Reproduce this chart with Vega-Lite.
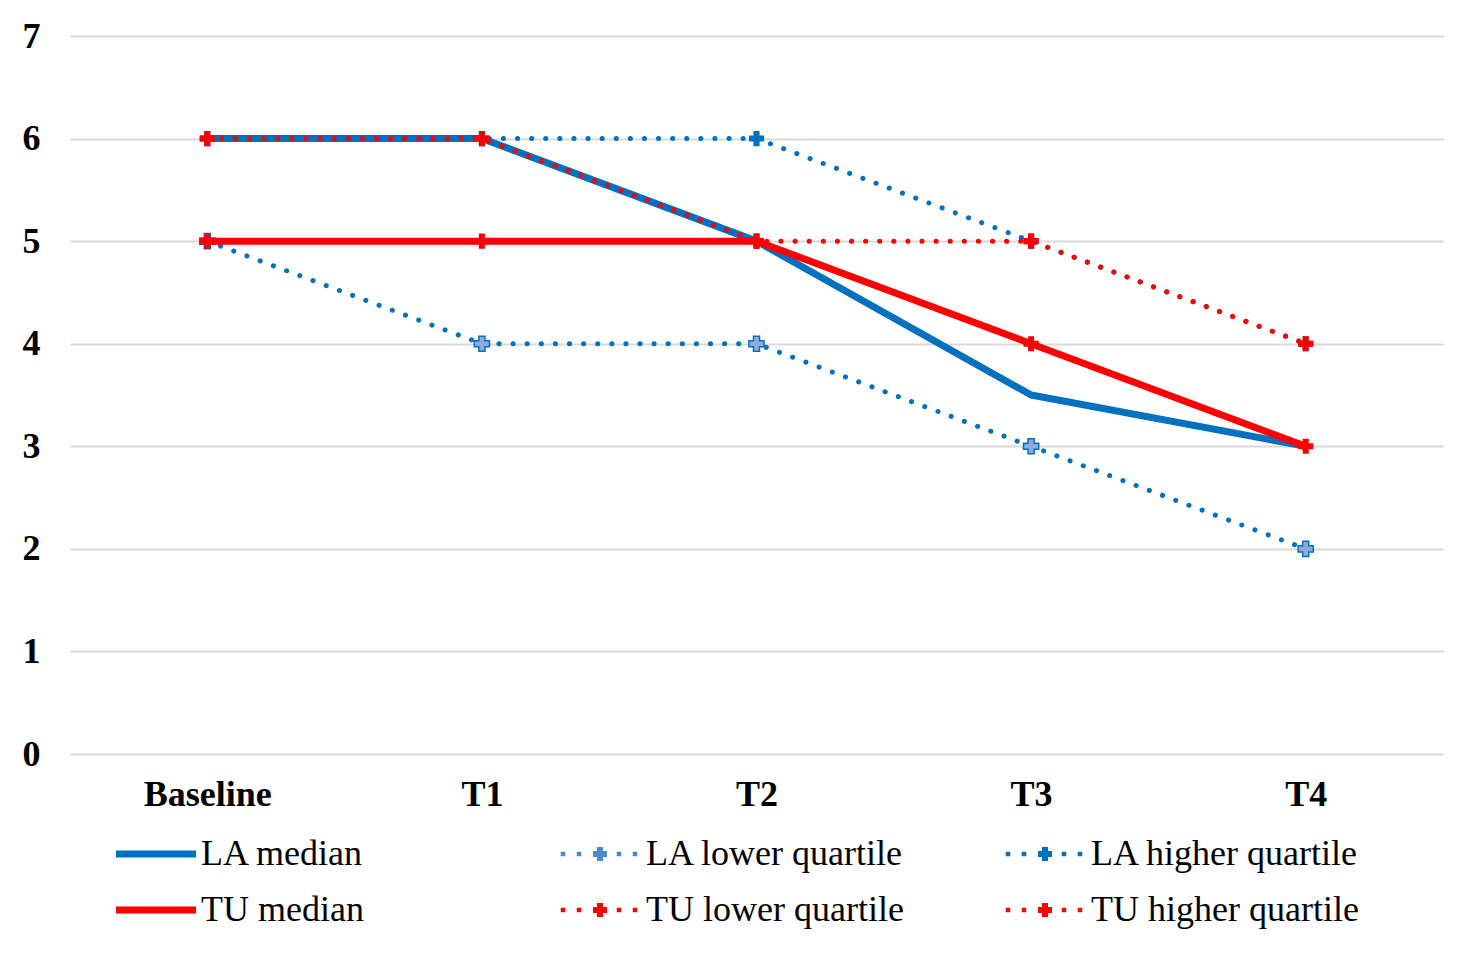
{
  "$schema": "https://vega.github.io/schema/vega-lite/v6.json",
  "width": 1373,
  "height": 718,
  "padding": {"left": 22, "top": 18, "right": 35, "bottom": 10},
  "background": "white",
  "config": {
    "view": {"stroke": null},
    "axis": {"labelFont": "Liberation Serif", "labelFontWeight": "bold", "labelColor": "black", "title": null, "ticks": false, "domain": false},
    "legend": {
      "orient": "bottom",
      "direction": "horizontal",
      "columns": 3,
      "gridAlign": "all",
      "title": null,
      "labelFont": "Liberation Serif",
      "labelFontSize": 36,
      "labelColor": "black",
      "labelLimit": 0,
      "symbolSize": 100,
      "symbolStrokeWidth": 0,
      "symbolOpacity": 1,
      "labelOffset": 62,
      "columnPadding": 79,
      "rowPadding": 20,
      "padding": 33,
      "offset": -9
    }
  },
  "data": {
    "values": [
      {"t": "Baseline", "series": "LA median", "v": 6},
      {"t": "T1", "series": "LA median", "v": 6},
      {"t": "T2", "series": "LA median", "v": 5},
      {"t": "T3", "series": "LA median", "v": 3.5},
      {"t": "T4", "series": "LA median", "v": 3},
      {"t": "Baseline", "series": "LA lower quartile", "v": 5},
      {"t": "T1", "series": "LA lower quartile", "v": 4},
      {"t": "T2", "series": "LA lower quartile", "v": 4},
      {"t": "T3", "series": "LA lower quartile", "v": 3},
      {"t": "T4", "series": "LA lower quartile", "v": 2},
      {"t": "Baseline", "series": "LA higher quartile", "v": 6},
      {"t": "T1", "series": "LA higher quartile", "v": 6},
      {"t": "T2", "series": "LA higher quartile", "v": 6},
      {"t": "T3", "series": "LA higher quartile", "v": 5},
      {"t": "T4", "series": "LA higher quartile", "v": 4},
      {"t": "Baseline", "series": "TU median", "v": 5},
      {"t": "T1", "series": "TU median", "v": 5},
      {"t": "T2", "series": "TU median", "v": 5},
      {"t": "T3", "series": "TU median", "v": 4},
      {"t": "T4", "series": "TU median", "v": 3},
      {"t": "Baseline", "series": "TU lower quartile", "v": 5},
      {"t": "T1", "series": "TU lower quartile", "v": 5},
      {"t": "T2", "series": "TU lower quartile", "v": 5},
      {"t": "T3", "series": "TU lower quartile", "v": 4},
      {"t": "T4", "series": "TU lower quartile", "v": 3},
      {"t": "Baseline", "series": "TU higher quartile", "v": 6},
      {"t": "T1", "series": "TU higher quartile", "v": 6},
      {"t": "T2", "series": "TU higher quartile", "v": 5},
      {"t": "T3", "series": "TU higher quartile", "v": 5},
      {"t": "T4", "series": "TU higher quartile", "v": 4}
    ]
  },
  "encoding": {
    "x": {"field": "t", "type": "ordinal", "sort": ["Baseline", "T1", "T2", "T3", "T4"],
      "scale": {"type": "point", "padding": 0.5},
      "axis": {"labelAngle": 0, "labelFontSize": 36, "labelPadding": 23, "grid": false}},
    "y": {"field": "v", "type": "quantitative",
      "scale": {"domain": [0, 7], "nice": false, "zero": true},
      "axis": {"values": [0, 1, 2, 3, 4, 5, 6, 7], "labelFontSize": 36, "labelPadding": 30, "grid": true, "gridColor": "#D9D9D9", "gridWidth": 2}}
  },
  "layer": [
    {"mark": {"type": "point", "filled": true, "opacity": 0, "size": 1},
      "encoding": {
        "color": {"field": "series", "type": "nominal",
          "scale": {"domain": ["LA median", "LA lower quartile", "LA higher quartile", "TU median", "TU lower quartile", "TU higher quartile"],
            "range": ["#0070C0", "#4A8AD0", "#0070C0", "#FF0000", "#FF0000", "#FF0000"]},
          "legend": {"symbolOpacity": 1, "symbolSize": 100, "labelFont": "Liberation Serif", "labelFontSize": 36, "labelLimit": 0}},
        "shape": {"field": "series", "type": "nominal",
          "scale": {"domain": ["LA median", "LA lower quartile", "LA higher quartile", "TU median", "TU lower quartile", "TU higher quartile"],
            "range": [
              "M-1,-0.7H15V0.7H-1Z",
              "M-1.05,-0.45h0.9v0.9h-0.9Z M2.15,-0.45h0.9v0.9h-0.9Z M10.15,-0.45h0.9v0.9h-0.9Z M13.35,-0.45h0.9v0.9h-0.9Z M6.2,-1.4h1.2v0.8h0.8v1.2h-0.8v0.8h-1.2v-0.8h-0.8v-1.2h0.8Z",
              "M-1.05,-0.45h0.9v0.9h-0.9Z M2.15,-0.45h0.9v0.9h-0.9Z M10.15,-0.45h0.9v0.9h-0.9Z M13.35,-0.45h0.9v0.9h-0.9Z M6.2,-1.4h1.2v0.8h0.8v1.2h-0.8v0.8h-1.2v-0.8h-0.8v-1.2h0.8Z",
              "M-1,-0.7H15V0.7H-1Z",
              "M-1.05,-0.45h0.9v0.9h-0.9Z M2.15,-0.45h0.9v0.9h-0.9Z M10.15,-0.45h0.9v0.9h-0.9Z M13.35,-0.45h0.9v0.9h-0.9Z M6.2,-1.4h1.2v0.8h0.8v1.2h-0.8v0.8h-1.2v-0.8h-0.8v-1.2h0.8Z",
              "M-1.05,-0.45h0.9v0.9h-0.9Z M2.15,-0.45h0.9v0.9h-0.9Z M10.15,-0.45h0.9v0.9h-0.9Z M13.35,-0.45h0.9v0.9h-0.9Z M6.2,-1.4h1.2v0.8h0.8v1.2h-0.8v0.8h-1.2v-0.8h-0.8v-1.2h0.8Z"
            ]},
          "legend": {"symbolOpacity": 1, "symbolSize": 100, "labelFont": "Liberation Serif", "labelFontSize": 36, "labelLimit": 0}}
      }},
    {"transform": [{"filter": "datum.series == 'LA median'"}],
      "mark": {"type": "line", "strokeWidth": 7, "strokeJoin": "round", "color": "#0070C0"}},
    {"transform": [{"filter": "datum.series == 'LA lower quartile'"}],
      "mark": {"type": "line", "strokeWidth": 5, "strokeDash": [0.1, 14], "strokeCap": "round", "color": "#0070C0"}},
    {"transform": [{"filter": "datum.series == 'LA lower quartile'"}],
      "mark": {"type": "point", "shape": "cross", "filled": true, "size": 230, "opacity": 1, "fill": "#8FAADC", "stroke": "#0070C0", "strokeWidth": 1.5}},
    {"transform": [{"filter": "datum.series == 'LA higher quartile'"}],
      "mark": {"type": "line", "strokeWidth": 5, "strokeDash": [0.1, 14], "strokeCap": "round", "color": "#0070C0"}},
    {"transform": [{"filter": "datum.series == 'LA higher quartile'"}],
      "mark": {"type": "point", "shape": "cross", "filled": true, "size": 230, "opacity": 1, "color": "#0070C0"}},
    {"transform": [{"filter": "datum.series == 'TU median'"}],
      "mark": {"type": "line", "strokeWidth": 7, "strokeJoin": "round", "color": "#FF0000"}},
    {"transform": [{"filter": "datum.series == 'TU lower quartile' || datum.series == 'TU higher quartile'"}],
      "mark": {"type": "line", "strokeWidth": 5, "strokeDash": [0.1, 14], "strokeCap": "round", "color": "#FF0000"},
      "encoding": {"detail": {"field": "series"}}},
    {"transform": [{"filter": "datum.series == 'TU lower quartile' || datum.series == 'TU higher quartile'"}],
      "mark": {"type": "point", "shape": "cross", "filled": true, "size": 230, "opacity": 1, "color": "#FF0000"}}
  ]
}
